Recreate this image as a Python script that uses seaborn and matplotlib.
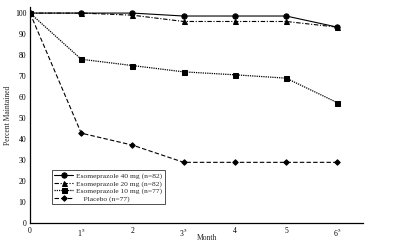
import matplotlib
matplotlib.use("Agg")
import matplotlib.pyplot as plt
import seaborn as sns
import pandas as pd

months = [0, 1, 2, 3, 4, 5, 6]
tick_labels = ["0", r"1$^{\,5}$", "2", r"3$^{\,5}$", "4", "5", r"6$^{\,5}$"]
esomeprazole_40 = [100, 100, 100, 98.6, 98.6, 98.6, 93.3]
esomeprazole_20 = [100, 100, 99.0, 96.0, 96.0, 96.0, 93.3]
esomeprazole_10 = [100, 78.0, 75.0, 72.0, 70.6, 69.0, 57.3]
placebo = [100, 42.8, 37.1, 28.9, 28.9, 28.9, 28.9]
series_names = ["Esomeprazole 40 mg (n=82)", "Esomeprazole 20 mg (n=82)",
                "Esomeprazole 10 mg (n=77)", "    Placebo (n=77)"]
series_values = [esomeprazole_40, esomeprazole_20, esomeprazole_10, placebo]
y_ticks = [0, 10, 20, 30, 40, 50, 60, 70, 80, 90, 100]

sns.set_style("white")
plt.rcParams["font.family"] = ["Liberation Serif", "DejaVu Serif"]
plt.rcParams["mathtext.fontset"] = "stix"

fig = plt.figure(figsize=(4.0, 2.42), dpi=100)
ax = fig.add_axes([0.075, 0.0785, 0.8325, 0.8926])

styles = [
    dict(linestyle="-", marker="o", markersize=3.8, lw=0.8),
    dict(linestyle=(0, (4, 1.5, 1, 1.5)), marker="^", markersize=3.6, lw=0.8),
    dict(linestyle=(0, (1, 0.8)), marker="s", markersize=3.6, lw=0.9),
    dict(linestyle=(0, (4, 2)), marker="D", markersize=2.8, lw=0.8),
]

for name, vals, st in zip(series_names, series_values, styles):
    df = pd.DataFrame({"Month": months, "Percent": vals})
    sns.lineplot(data=df, x="Month", y="Percent", ax=ax, color="black",
                 label=name, markeredgecolor="black", markerfacecolor="black",
                 **st)

ax.set_xlim(0, 6.5)
ax.set_ylim(0, 102.9)
ax.set_xticks(months)
ax.set_xticklabels(tick_labels)
ax.set_yticks(y_ticks)
ax.tick_params(axis="both", labelsize=5.5, length=2.5, width=0.5, pad=1.5,
               direction="inout", colors="black")
for s in ["top", "right"]:
    ax.spines[s].set_visible(False)
for s in ["left", "bottom"]:
    ax.spines[s].set_color("black")
    ax.spines[s].set_linewidth(0.9)

ax.set_xlabel("Month", fontsize=5.5, labelpad=0)
ax.set_ylabel("Percent Maintained", fontsize=5.5, labelpad=2)
ax.xaxis.set_label_coords(0.53, -0.05)

leg = ax.legend(loc="lower left", bbox_to_anchor=(0.054, 0.069), fontsize=5.4,
                frameon=True, fancybox=False, edgecolor="black", handlelength=2.6,
                borderpad=0.3, labelspacing=0.15, handletextpad=0.4)
leg.get_frame().set_linewidth(0.6)

fig.savefig("out.png", dpi=100, facecolor="white")
